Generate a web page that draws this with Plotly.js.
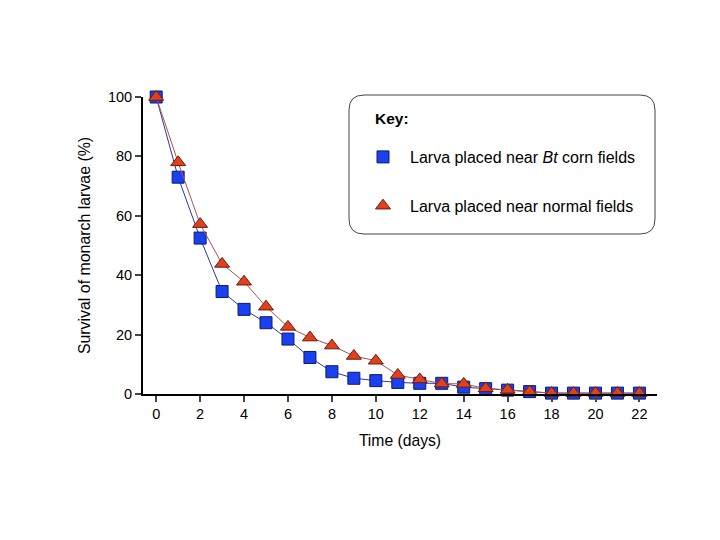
<!DOCTYPE html>
<html><head><meta charset="utf-8">
<script src="https://cdn.plot.ly/plotly-3.0.1.min.js"></script>
<style>body{margin:0;background:#fff}#c{width:720px;height:540px}</style>
</head><body><div id="c"></div>
<script>
const days = [0,1,2,3,4,5,6,7,8,9,10,11,12,13,14,15,16,17,18,19,20,21,22];
const btSurvival = [100,73,52.5,34.5,28.5,24,18.5,12.3,7.5,5.3,4.5,3.9,3.6,3.6,2.3,1.8,1.3,0.8,0.3,0.3,0.3,0.3,0.3];
const normalSurvival = [100,78,57.2,43.8,37.8,29.4,22.6,19,16.3,12.8,11.2,6.4,4.9,3.5,3.4,1.9,1.4,0.8,0.3,0.3,0.3,0.3,0.3];
const seriesNames = ['Larva placed near <i>Bt</i> corn fields','Larva placed near normal fields'];
const keyTitle = 'Key:';
const xTicks = [0,2,4,6,8,10,12,14,16,18,20,22];
const yTicks = [0,20,40,60,80,100];

const blueFill = '#1a40f0', blueEdge = '#0c1a6e', blueLine = '#2a3a9a';
const redFill = '#e0401c', redEdge = '#6e1a10', redLine = '#b05252';

const traces = [
  {x: days, y: btSurvival, mode: 'lines', line: {color: blueLine, width: 1}, showlegend: false, cliponaxis: false, hoverinfo: 'skip'},
  {x: days, y: btSurvival, mode: 'markers', name: seriesNames[0], legendgroup: 'a',
   marker: {symbol: 'square', size: 12, color: blueFill, line: {color: blueEdge, width: 1}}, cliponaxis: false},
  {x: days, y: normalSurvival, mode: 'lines', line: {color: redLine, width: 1}, showlegend: false, cliponaxis: false, hoverinfo: 'skip'},
  {x: days, y: normalSurvival, mode: 'markers', name: seriesNames[1], legendgroup: 'b',
   marker: {symbol: 'triangle-up', size: 13, color: redFill, line: {color: redEdge, width: 1}}, cliponaxis: false}
];

const L = 143, R = 657, T = 97, B = 394;
const W = R - L, H = B - T;
const px = v => (v - L) / W, py = v => (B - v) / H;
const bx0 = px(349), bx1 = px(655), by0 = py(234), by1 = py(95);
const rx = 15 / W, ry = 15 / H;
const boxPath = `M ${bx0+rx},${by0} L ${bx1-rx},${by0} Q ${bx1},${by0} ${bx1},${by0+ry} L ${bx1},${by1-ry} Q ${bx1},${by1} ${bx1-rx},${by1} L ${bx0+rx},${by1} Q ${bx0},${by1} ${bx0},${by1-ry} L ${bx0},${by0+ry} Q ${bx0},${by0} ${bx0+rx},${by0} Z`;

const layout = {
  width: 720, height: 540,
  margin: {l: L, r: 720 - R, t: T, b: 540 - B},
  paper_bgcolor: '#fff', plot_bgcolor: '#fff',
  font: {family: 'Liberation Sans, Arial, sans-serif', size: 14.5, color: '#000'},
  xaxis: {range: [-0.6, 22.8], tickvals: xTicks, ticks: 'outside', ticklen: 6, tickwidth: 2,
          showline: true, linewidth: 2, linecolor: '#000', showgrid: false, zeroline: false,
          title: {text: 'Time (days)', font: {size: 15.7}, standoff: 14}},
  yaxis: {range: [0, 100], tickvals: yTicks, ticks: 'outside', ticklen: 6, tickwidth: 2,
          showline: true, linewidth: 2, linecolor: '#000', showgrid: false, zeroline: false,
          title: {text: 'Survival of monarch larvae (%)', font: {size: 15.9}, standoff: 13}},
  showlegend: true,
  legend: {x: px(356), y: py(140), xanchor: 'left', yanchor: 'top', bgcolor: 'rgba(0,0,0,0)',
           borderwidth: 0, traceorder: 'grouped', tracegroupgap: 25, itemwidth: 44, font: {size: 16}},
  shapes: [{type: 'path', xref: 'paper', yref: 'paper', path: boxPath, line: {color: '#444', width: 1}, fillcolor: 'rgba(0,0,0,0)'}],
  annotations: [{xref: 'paper', yref: 'paper', x: px(373), y: py(118), xanchor: 'left', yanchor: 'middle',
                 text: '<b>' + keyTitle + '</b>', showarrow: false, font: {size: 15.5}}]
};

Plotly.newPlot('c', traces, layout, {displayModeBar: false, staticPlot: true});
</script></body></html>
